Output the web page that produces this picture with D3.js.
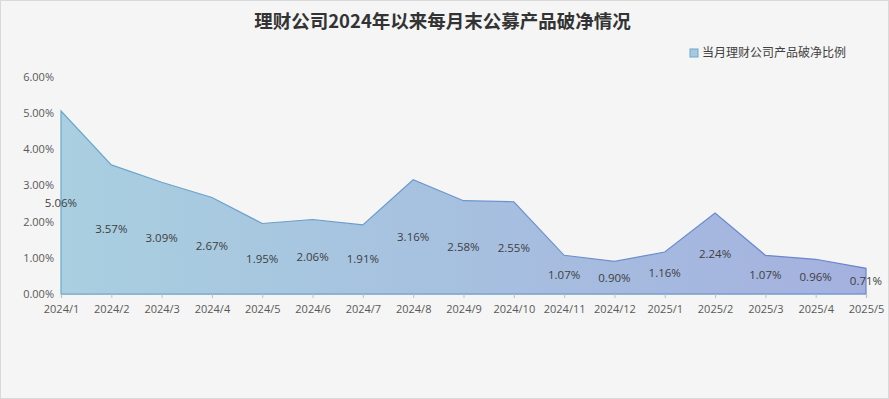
<!DOCTYPE html>
<html>
<head>
<meta charset="utf-8">
<script src="https://cdn.jsdelivr.net/npm/d3@7"></script>
<style>
  html, body { margin: 0; padding: 0; background: #fff; }
  svg { display: block; font-family: "Noto Sans CJK SC", "Open Sans", sans-serif; }
</style>
</head>
<body>
<div id="chart"></div>
<script>
/* chart data */
const months = ['2024/1','2024/2','2024/3','2024/4','2024/5','2024/6','2024/7','2024/8','2024/9','2024/10',
                '2024/11','2024/12','2025/1','2025/2','2025/3','2025/4','2025/5'];
const ratios = [5.06, 3.57, 3.09, 2.67, 1.95, 2.06, 1.91, 3.16, 2.58, 2.55, 1.07, 0.90, 1.16, 2.24, 1.07, 0.96, 0.71];
const yTicks = [0, 1, 2, 3, 4, 5, 6];
const seriesName = '当月理财公司产品破净比例';
const chartTitle = '理财公司2024年以来每月末公募产品破净情况';

const W = 889, H = 399;
const m = { left: 61, right: 23, top: 77, bottom: 105 };

const svg = d3.select('#chart').append('svg').attr('width', W).attr('height', H);

svg.append('rect').attr('x', .5).attr('y', .5).attr('width', W - 1).attr('height', H - 1)
  .attr('fill', '#f5f5f5').attr('stroke', '#d9d9d9');

const x = d3.scalePoint().domain(months).range([m.left, W - m.right]);
const y = d3.scaleLinear().domain([0, 6]).range([H - m.bottom, m.top]);

/* gradient for area */
const defs = svg.append('defs');
const grad = defs.append('linearGradient').attr('id', 'fillGrad')
  .attr('x1', '0%').attr('x2', '100%').attr('y1', '0%').attr('y2', '0%');
grad.append('stop').attr('offset', '0%').attr('stop-color', '#a9cfe0');
grad.append('stop').attr('offset', '100%').attr('stop-color', '#a4b1df');
const sgrad = defs.append('linearGradient').attr('id', 'strokeGrad')
  .attr('gradientUnits', 'userSpaceOnUse')
  .attr('x1', m.left).attr('x2', W - m.right).attr('y1', 0).attr('y2', 0);
sgrad.append('stop').attr('offset', '0%').attr('stop-color', '#6aa9cb');
sgrad.append('stop').attr('offset', '100%').attr('stop-color', '#6c82cc');

const data = months.map((mo, i) => ({ mo, v: ratios[i] }));

const area = d3.area().x(d => x(d.mo)).y0(y(0)).y1(d => y(d.v));
svg.append('path').datum(data).attr('d', area)
  .attr('fill', 'url(#fillGrad)')
  .attr('stroke', 'url(#strokeGrad)').attr('stroke-width', 1.2);

/* y axis labels */
svg.append('g').selectAll('text').data(yTicks).join('text')
  .attr('x', m.left - 7).attr('y', d => y(d)).attr('dy', '.35em')
  .attr('text-anchor', 'end')
  .style('font-family', '"Open Sans", sans-serif')
  .style('font-size', '11px').style('fill', '#595959')
  .text(d => d.toFixed(2) + '%');

/* x axis */
const xAxis = d3.axisBottom(x).tickSize(4).tickPadding(7);
const gx = svg.append('g').attr('transform', `translate(0,${y(0)})`).call(xAxis);
gx.select('.domain').attr('stroke', '#8fb7d1').attr('stroke-width', 1.2);
gx.selectAll('.tick line').attr('stroke', '#bfbfbf');
gx.selectAll('.tick text')
  .style('font-family', '"Open Sans", sans-serif')
  .style('font-size', '11px').style('fill', '#595959');

/* data labels sit at half of each value */
svg.append('g').selectAll('text').data(data).join('text')
  .attr('x', d => x(d.mo)).attr('y', d => y(d.v / 2)).attr('dy', '.35em')
  .attr('text-anchor', 'middle')
  .style('font-family', '"Open Sans", sans-serif')
  .style('font-size', '11.5px').style('fill', '#404040')
  .text(d => d.v.toFixed(2) + '%');

/* title */
svg.append('text').attr('x', W / 2 - 2).attr('y', 28).attr('text-anchor', 'middle')
  .style('font-size', '18.5px').style('font-weight', 'bold').style('fill', '#333')
  .text(chartTitle);

/* legend */
const lg = svg.append('g').attr('transform', 'translate(690,49)');
lg.append('rect').attr('x', 0).attr('y', 0).attr('width', 8).attr('height', 8)
  .attr('fill', '#a9c8e0').attr('stroke', '#6aa9cb');
lg.append('text').attr('x', 12).attr('y', 4).attr('dy', '.35em')
  .style('font-size', '12px').style('fill', '#404040')
  .text(seriesName);
</script>
</body>
</html>
